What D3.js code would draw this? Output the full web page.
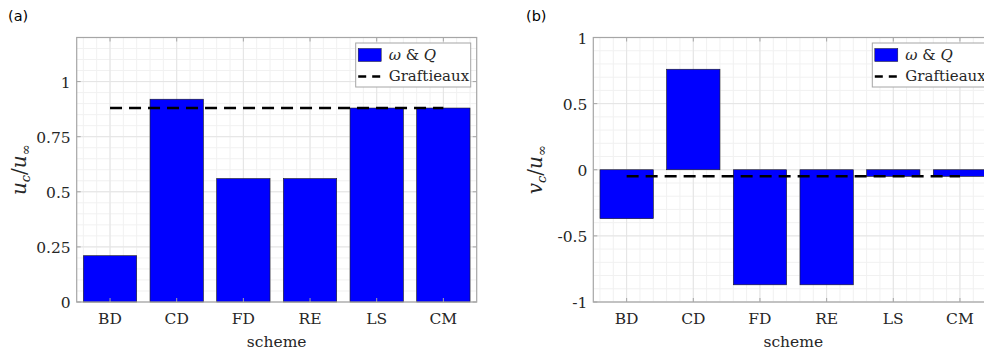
<!DOCTYPE html>
<html>
<head>
<meta charset="utf-8">
<script src="https://cdn.jsdelivr.net/npm/d3@7"></script>
<style>
  html, body { margin: 0; padding: 0; background: #fff; }
  svg { display: block; }
  .tick-label { font-family: "DejaVu Serif", serif; font-size: 15.5px; fill: #262626; }
  .math { font-family: "DejaVu Serif", serif; fill: #262626; }
  .panel-tag { font-family: "DejaVu Sans", Verdana, sans-serif; font-size: 14.5px; fill: #000; }
</style>
</head>
<body>
<div id="chart"></div>
<script>
var schemes = ["BD", "CD", "FD", "RE", "LS", "CM"];

// panel (a): u_c / u_inf
var uValues = [0.21, 0.92, 0.56, 0.56, 0.88, 0.88];
var uGraftieaux = 0.88;
var uTicks = [0, 0.25, 0.5, 0.75, 1];
var uTickLabels = ["0", "0.25", "0.5", "0.75", "1"];

// panel (b): v_c / u_inf
var vValues = [-0.37, 0.76, -0.87, -0.87, -0.05, -0.05];
var vGraftieaux = -0.05;
var vTicks = [-1, -0.5, 0, 0.5, 1];
var vTickLabels = ["-1", "-0.5", "0", "0.5", "1"];

var w = 984;
var h = 357;

var svg = d3.select("#chart")
    .append("svg")
    .attr("width", w)
    .attr("height", h);

function drawPanel(opt) {
    var g = svg.append("g");
    var left = opt.left, right = opt.left + 400, top = 37.5, bottom = 302;

    var xscale = d3.scaleLinear()
        .domain([0.5, schemes.length + 0.5])
        .range([left, right]);
    var yscale = d3.scaleLinear()
        .domain(opt.yDomain)
        .range([bottom, top]);

    // minor grid
    var xMinor = d3.range(0.6, schemes.length + 0.5, 0.2);
    var yMinor = d3.range(opt.yDomain[0], opt.yDomain[1] + 1e-9, opt.minorStep);
    g.selectAll(".xminor").data(xMinor).enter().append("line")
        .attr("x1", function (d) { return xscale(d); })
        .attr("x2", function (d) { return xscale(d); })
        .attr("y1", top).attr("y2", bottom)
        .attr("stroke", "#f1f1f1").attr("stroke-width", 1);
    g.selectAll(".yminor").data(yMinor).enter().append("line")
        .attr("x1", left).attr("x2", right)
        .attr("y1", function (d) { return yscale(d); })
        .attr("y2", function (d) { return yscale(d); })
        .attr("stroke", "#f1f1f1").attr("stroke-width", 1);

    // major grid
    g.selectAll(".xmajor").data(d3.range(1, schemes.length + 1)).enter().append("line")
        .attr("x1", function (d) { return xscale(d); })
        .attr("x2", function (d) { return xscale(d); })
        .attr("y1", top).attr("y2", bottom)
        .attr("stroke", "#e4e4e4").attr("stroke-width", 1);
    g.selectAll(".ymajor").data(opt.ticks).enter().append("line")
        .attr("x1", left).attr("x2", right)
        .attr("y1", function (d) { return yscale(d); })
        .attr("y2", function (d) { return yscale(d); })
        .attr("stroke", "#e4e4e4").attr("stroke-width", 1);

    // bars
    var bw = xscale(0.8) - xscale(0);
    g.selectAll(".bar").data(opt.values).enter().append("rect")
        .attr("x", function (d, i) { return xscale(i + 1) - bw / 2; })
        .attr("y", function (d) { return yscale(Math.max(d, 0)); })
        .attr("width", bw)
        .attr("height", function (d) { return Math.abs(yscale(d) - yscale(0)); })
        .attr("fill", "#0000ff")
        .attr("stroke", "#1a1a1a")
        .attr("stroke-width", 0.6);

    // graftieaux reference line
    g.append("line")
        .attr("x1", xscale(1)).attr("x2", xscale(schemes.length))
        .attr("y1", yscale(opt.graf)).attr("y2", yscale(opt.graf))
        .attr("stroke", "#000").attr("stroke-width", 2.5)
        .attr("stroke-dasharray", "12,7");

    // axes box
    g.append("rect")
        .attr("x", left).attr("y", top)
        .attr("width", right - left).attr("height", bottom - top)
        .attr("fill", "none").attr("stroke", "#a6a6a6").attr("stroke-width", 1.2);

    // ticks (inside, on all four sides)
    var tl = 4;
    d3.range(1, schemes.length + 1).forEach(function (d) {
        g.append("line").attr("x1", xscale(d)).attr("x2", xscale(d))
            .attr("y1", bottom).attr("y2", bottom - tl).attr("stroke", "#a6a6a6");
        g.append("line").attr("x1", xscale(d)).attr("x2", xscale(d))
            .attr("y1", top).attr("y2", top + tl).attr("stroke", "#a6a6a6");
    });
    opt.ticks.forEach(function (d) {
        g.append("line").attr("x1", left).attr("x2", left + tl)
            .attr("y1", yscale(d)).attr("y2", yscale(d)).attr("stroke", "#a6a6a6");
        g.append("line").attr("x1", right).attr("x2", right - tl)
            .attr("y1", yscale(d)).attr("y2", yscale(d)).attr("stroke", "#a6a6a6");
    });

    // tick labels
    g.selectAll(".xl").data(schemes).enter().append("text")
        .attr("class", "tick-label")
        .attr("x", function (d, i) { return xscale(i + 1); })
        .attr("y", bottom + 22)
        .attr("text-anchor", "middle")
        .text(function (d) { return d; });
    g.selectAll(".yl").data(opt.ticks).enter().append("text")
        .attr("class", "tick-label")
        .attr("x", left - 6)
        .attr("y", function (d) { return yscale(d) + 6; })
        .attr("text-anchor", "end")
        .text(function (d, i) { return opt.tickLabels[i]; });

    // x label
    g.append("text")
        .attr("class", "tick-label")
        .attr("x", (left + right) / 2)
        .attr("y", 347)
        .attr("text-anchor", "middle")
        .text("scheme");

    // y label  (italic letter, subscript c, slash, u, subscript infinity)
    var yl = g.append("text")
        .attr("class", "math")
        .attr("font-size", 20)
        .attr("text-anchor", "middle")
        .attr("transform", "translate(" + (left - 51) + "," + ((top + bottom) / 2) + ") rotate(-90)");
    yl.append("tspan").attr("font-style", "italic").text(opt.yLetter);
    yl.append("tspan").attr("font-style", "italic").attr("font-size", 13).attr("dy", 4).text("c");
    yl.append("tspan").attr("dy", -4).text("/");
    yl.append("tspan").attr("font-style", "italic").text("u");
    yl.append("tspan").attr("font-size", 13).attr("dy", 4).text("\u221e");

    // legend
    var lx = right - 121, ly = top + 5.5;
    var lg = g.append("g").attr("transform", "translate(" + lx + "," + ly + ")");
    lg.append("rect")
        .attr("x", 0).attr("y", 0).attr("width", 115).attr("height", 44)
        .attr("fill", "#fff").attr("stroke", "#a6a6a6").attr("stroke-width", 1);
    lg.append("rect")
        .attr("x", 2.5).attr("y", 5.5).attr("width", 23).attr("height", 13)
        .attr("fill", "#0000ff").attr("stroke", "#1a1a1a").attr("stroke-width", 0.5);
    var t1 = lg.append("text").attr("class", "math").attr("font-size", 15)
        .attr("x", 33).attr("y", 17);
    t1.append("tspan").attr("font-style", "italic").text("\u03c9");
    t1.append("tspan").text(" & ");
    t1.append("tspan").attr("font-style", "italic").text("Q");
    lg.append("line")
        .attr("x1", 2.5).attr("x2", 26).attr("y1", 33.5).attr("y2", 33.5)
        .attr("stroke", "#000").attr("stroke-width", 2.5)
        .attr("stroke-dasharray", "8,6");
    lg.append("text").attr("class", "math").attr("font-size", 15)
        .attr("x", 33).attr("y", 38).text("Graftieaux");

    // panel tag
    svg.append("text")
        .attr("class", "panel-tag")
        .attr("x", opt.tagX).attr("y", 21)
        .text(opt.tag);
}

drawPanel({
    left: 76.7, yDomain: [0, 1.2], minorStep: 0.05,
    values: uValues, graf: uGraftieaux,
    ticks: uTicks, tickLabels: uTickLabels,
    yLetter: "u", tag: "(a)", tagX: 8
});

drawPanel({
    left: 593.3, yDomain: [-1, 1], minorStep: 0.1,
    values: vValues, graf: vGraftieaux,
    ticks: vTicks, tickLabels: vTickLabels,
    yLetter: "v", tag: "(b)", tagX: 526
});
</script>
</body>
</html>
